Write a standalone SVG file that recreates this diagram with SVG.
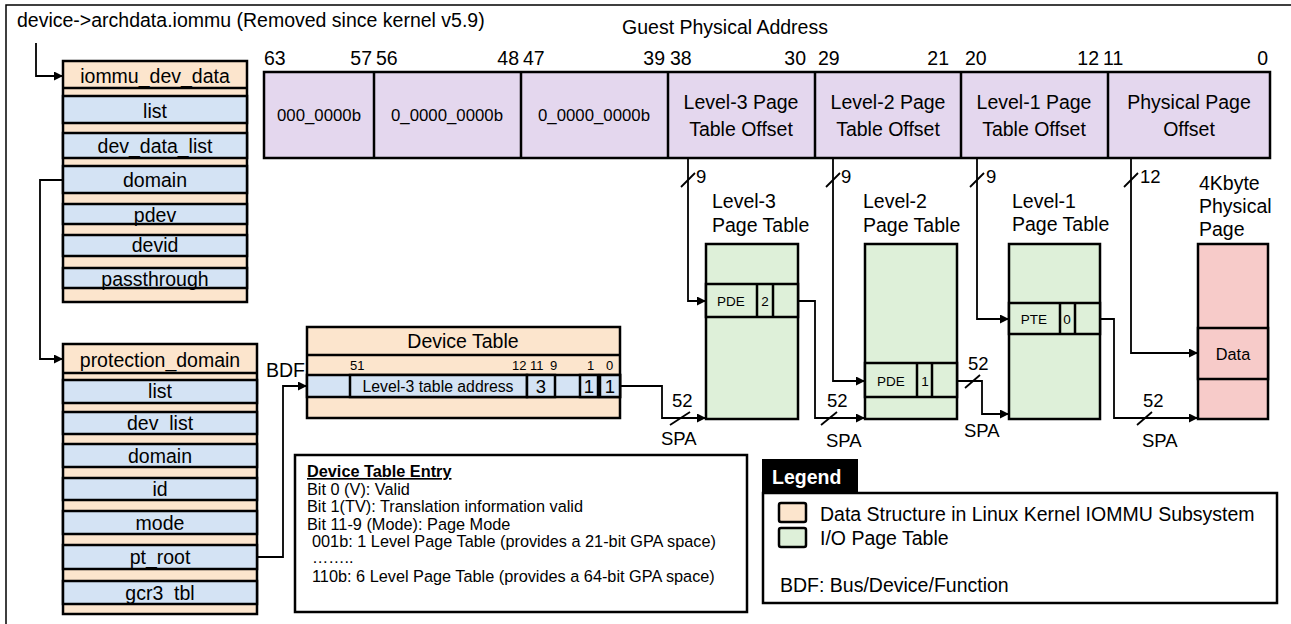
<svg xmlns="http://www.w3.org/2000/svg" width="1291" height="624" viewBox="0 0 1291 624">
  <defs>
    <style>
      text { font-family: "Liberation Sans", Arial, sans-serif; fill: #000; }
      .t19 { font-size: 19.5px; }
      .t18 { font-size: 18.5px; }
      .t16 { font-size: 16.3px; }
      .t17 { font-size: 16.8px; }
      .t15 { font-size: 15.8px; }
      .t13 { font-size: 13.5px; }
      .mid { text-anchor: middle; }
      .end { text-anchor: end; }
      .box { stroke: #000; stroke-width: 2.5; }
      .kern { fill: #fce5cd; }
      .fld { fill: #d4e3f4; }
      .gpa { fill: #e4d7ee; }
      .pt { fill: #def0d9; }
      .page { fill: #f7cbc9; }
      .wire { fill: none; stroke: #000; stroke-width: 1.8; }
      .bus { stroke: #000; stroke-width: 1.8; }
    </style>
    <marker id="arrow" viewBox="0 0 10 10" refX="10" refY="5" markerWidth="9" markerHeight="9" markerUnits="userSpaceOnUse" orient="auto">
      <path d="M0,0 L10,5 L0,10 z" fill="#000"/>
    </marker>
  </defs>

  <rect width="1291" height="624" fill="#fff"/>
  <!-- outer frame -->
  <path d="M6,624 V5 H1291" fill="none" stroke="#000" stroke-width="1.5"/>

  <text class="t19" x="17" y="27">device-&gt;archdata.iommu (Removed since kernel v5.9)</text>
  <text class="t19 mid" x="725" y="34">Guest Physical Address</text>

  <!-- guest physical address bit fields -->
  <g id="gpa">
    <rect class="box gpa" x="264" y="72" width="1006" height="86"/>
    <path d="M374,72 V158 M521,72 V158 M668,72 V158 M815,72 V158 M961,72 V158 M1108,72 V158" stroke="#000" stroke-width="2.5"/>
    <g class="t19">
      <text x="264" y="65">63</text>
      <text class="end" x="372" y="65">57</text>
      <text x="376" y="65">56</text>
      <text class="end" x="519" y="65">48</text>
      <text x="523" y="65">47</text>
      <text class="end" x="665" y="65">39</text>
      <text x="670" y="65">38</text>
      <text class="end" x="806" y="65">30</text>
      <text x="818" y="65">29</text>
      <text class="end" x="949" y="65">21</text>
      <text x="965" y="65">20</text>
      <text class="end" x="1099" y="65">12</text>
      <text x="1103" y="65">11</text>
      <text class="end" x="1268" y="65">0</text>
    </g>
    <g class="t17 mid">
      <text x="319" y="121">000_0000b</text>
      <text x="447" y="121">0_0000_0000b</text>
      <text x="594" y="121">0_0000_0000b</text>
    </g>
    <g class="t19 mid">
      <text x="741" y="109">Level-3 Page</text>
      <text x="741" y="136">Table Offset</text>
      <text x="888" y="109">Level-2 Page</text>
      <text x="888" y="136">Table Offset</text>
      <text x="1034" y="109">Level-1 Page</text>
      <text x="1034" y="136">Table Offset</text>
      <text x="1189" y="109">Physical Page</text>
      <text x="1189" y="136">Offset</text>
    </g>
  </g>

  <!-- struct iommu_dev_data -->
  <g id="iommu_dev_data">
    <rect class="box kern" x="63" y="61" width="184" height="241"/>
    <line x1="63" y1="88" x2="247" y2="88" stroke="#000" stroke-width="2.5"/>
    <rect class="box fld" x="63" y="96" width="184" height="27"/>
    <rect class="box fld" x="63" y="133" width="184" height="25"/>
    <rect class="box fld" x="63" y="166" width="184" height="27"/>
    <rect class="box fld" x="63" y="204" width="184" height="20"/>
    <rect class="box fld" x="63" y="235" width="184" height="21"/>
    <rect class="box fld" x="63" y="268" width="184" height="20"/>
    <g class="t19 mid">
      <text x="155" y="83">iommu_dev_data</text>
      <text x="155" y="118">list</text>
      <text x="155" y="153">dev_data_list</text>
      <text x="155" y="187">domain</text>
      <text x="155" y="222">pdev</text>
      <text x="155" y="252">devid</text>
      <text x="155" y="286">passthrough</text>
    </g>
  </g>

  <!-- struct protection_domain -->
  <g id="protection_domain">
    <rect class="box kern" x="63" y="344" width="194" height="270"/>
    <line x1="63" y1="373" x2="257" y2="373" stroke="#000" stroke-width="2.5"/>
    <rect class="box fld" x="63" y="380" width="194" height="23"/>
    <rect class="box fld" x="63" y="412" width="194" height="22"/>
    <rect class="box fld" x="63" y="444" width="194" height="23"/>
    <rect class="box fld" x="63" y="478" width="194" height="22"/>
    <rect class="box fld" x="63" y="511" width="194" height="23"/>
    <rect class="box fld" x="63" y="545" width="194" height="24"/>
    <rect class="box fld" x="63" y="581" width="194" height="23"/>
    <g class="t19 mid">
      <text x="160" y="367">protection_domain</text>
      <text x="160" y="398">list</text>
      <text x="160" y="430">dev_list</text>
      <text x="160" y="463">domain</text>
      <text x="160" y="496">id</text>
      <text x="160" y="530">mode</text>
      <text x="160" y="564">pt_root</text>
      <text x="160" y="600">gcr3_tbl</text>
    </g>
  </g>

  <!-- device table -->
  <g id="device_table">
    <rect class="box kern" x="307" y="327" width="313" height="91"/>
    <line x1="307" y1="355" x2="620" y2="355" stroke="#000" stroke-width="2.5"/>
    <rect class="box fld" x="307" y="375" width="313" height="22"/>
    <rect class="box fld" x="350" y="375" width="177" height="22"/>
    <rect class="box fld" x="527" y="375" width="28" height="22"/>
    <rect class="box fld" x="580" y="375" width="18" height="22"/>
    <rect class="box fld" x="600" y="375" width="20" height="22"/>
    <text class="t19 mid" x="463" y="348">Device Table</text>
    <g style="font-size:13px">
      <text x="350" y="370">51</text>
      <text x="512" y="370">12</text>
      <text x="530" y="370">11</text>
      <text x="550" y="370">9</text>
      <text x="587" y="370">1</text>
      <text x="606" y="370">0</text>
    </g>
    <text class="t15 mid" x="438" y="392">Level-3 table address</text>
    <g class="t18 mid">
      <text x="541" y="393">3</text>
      <text x="589" y="393">1</text>
      <text x="610" y="393">1</text>
    </g>
    <text class="t19" x="266" y="377">BDF</text>
  </g>

  <!-- level-3 page table -->
  <g id="level3_table">
    <text class="t19" x="712" y="208">Level-3</text>
    <text class="t19" x="712" y="232">Page Table</text>
    <rect class="box pt" x="706" y="244" width="92" height="175"/>
    <rect class="box pt" x="706" y="284" width="92" height="33"/>
    <path d="M757,284 V317 M773,284 V317" stroke="#000" stroke-width="2.5"/>
    <text class="t13 mid" x="731" y="306">PDE</text>
    <text class="t13 mid" x="765" y="306">2</text>
  </g>

  <!-- level-2 page table -->
  <g id="level2_table">
    <text class="t19" x="863" y="208">Level-2</text>
    <text class="t19" x="863" y="232">Page Table</text>
    <rect class="box pt" x="865" y="244" width="92" height="175"/>
    <rect class="box pt" x="865" y="363" width="92" height="34"/>
    <path d="M917,363 V397 M932,363 V397" stroke="#000" stroke-width="2.5"/>
    <text class="t13 mid" x="891" y="386">PDE</text>
    <text class="t13 mid" x="925" y="386">1</text>
  </g>

  <!-- level-1 page table -->
  <g id="level1_table">
    <text class="t19" x="1012" y="208">Level-1</text>
    <text class="t19" x="1012" y="231">Page Table</text>
    <rect class="box pt" x="1009" y="244" width="91" height="175"/>
    <rect class="box pt" x="1009" y="303" width="91" height="31"/>
    <path d="M1060,303 V334 M1075,303 V334" stroke="#000" stroke-width="2.5"/>
    <text class="t13 mid" x="1034" y="324">PTE</text>
    <text class="t13 mid" x="1067" y="324">0</text>
  </g>

  <!-- 4K physical page -->
  <g id="physical_page">
    <text class="t19" x="1199" y="190">4Kbyte</text>
    <text class="t19" x="1199" y="213">Physical</text>
    <text class="t19" x="1199" y="236">Page</text>
    <rect class="box page" x="1198" y="244" width="70" height="175"/>
    <rect class="box page" x="1198" y="328" width="70" height="51"/>
    <text class="t16 mid" x="1233" y="360">Data</text>
  </g>

  <!-- connectors -->
  <g id="connectors">
    <path class="wire" d="M36,43 V76 H63" marker-end="url(#arrow)"/>
    <path class="wire" d="M63,180 H40 V359 H63" marker-end="url(#arrow)"/>
    <path class="wire" d="M257,557 H283 V386 H307" marker-end="url(#arrow)"/>
    <path class="wire" d="M620,386 H662 V418 H706" marker-end="url(#arrow)"/>
    <path class="wire" d="M688,158 V301 H706" marker-end="url(#arrow)"/>
    <path class="wire" d="M798,301 H815 V418 H865" marker-end="url(#arrow)"/>
    <path class="wire" d="M833,158 V381 H865" marker-end="url(#arrow)"/>
    <path class="wire" d="M957,381 H982 V414 H1009" marker-end="url(#arrow)"/>
    <path class="wire" d="M977,158 V319 H1009" marker-end="url(#arrow)"/>
    <path class="wire" d="M1100,319 H1114 V418 H1198" marker-end="url(#arrow)"/>
    <path class="wire" d="M1131,158 V353 H1198" marker-end="url(#arrow)"/>

    <!-- bus width marks -->
    <line class="bus" x1="681" y1="187" x2="695" y2="173"/>
    <line class="bus" x1="826" y1="187" x2="840" y2="173"/>
    <line class="bus" x1="970" y1="187" x2="984" y2="173"/>
    <line class="bus" x1="1124" y1="187" x2="1138" y2="173"/>
    <line class="bus" x1="670" y1="425" x2="690" y2="412"/>
    <line class="bus" x1="821" y1="425" x2="837" y2="412"/>
    <line class="bus" x1="965" y1="388" x2="980" y2="375"/>
    <line class="bus" x1="1137" y1="425" x2="1152" y2="412"/>
    <g class="t18">
      <text x="696" y="183">9</text>
      <text x="841" y="183">9</text>
      <text x="986" y="183">9</text>
      <text x="1140" y="183">12</text>
      <text x="672" y="407">52</text>
      <text x="661" y="445">SPA</text>
      <text x="827" y="407">52</text>
      <text x="826" y="447">SPA</text>
      <text x="968" y="370">52</text>
      <text x="964" y="437">SPA</text>
      <text x="1143" y="407">52</text>
      <text x="1142" y="447">SPA</text>
    </g>
  </g>

  <!-- device table entry notes -->
  <g id="dte_notes">
    <rect x="295" y="455" width="452" height="157" fill="#fff" stroke="#000" stroke-width="2.5"/>
    <g class="t16">
      <text x="307" y="477" font-weight="bold" text-decoration="underline">Device Table Entry</text>
      <text x="307" y="494.5">Bit 0 (V): Valid</text>
      <text x="307" y="512">Bit 1(TV): Translation information valid</text>
      <text x="307" y="529.5">Bit 11-9 (Mode): Page Mode</text>
      <text x="312" y="547">001b: 1 Level Page Table (provides a 21-bit GPA space)</text>
      <text x="312" y="563">……..</text>
      <text x="312" y="582">110b: 6 Level Page Table (provides a 64-bit GPA space)</text>
    </g>
  </g>

  <!-- legend -->
  <g id="legend">
    <rect x="763" y="493" width="514" height="110" fill="#fff" stroke="#000" stroke-width="2.5"/>
    <rect x="762" y="459" width="96" height="34" fill="#000"/>
    <text class="t19" x="772" y="484" font-weight="bold" style="fill:#fff">Legend</text>
    <rect class="box kern" x="779" y="503" width="27" height="19" rx="2"/>
    <rect class="box pt" x="779" y="528" width="27" height="19" rx="2"/>
    <text class="t19" x="820" y="521">Data Structure in Linux Kernel IOMMU Subsystem</text>
    <text class="t19" x="820" y="545">I/O Page Table</text>
    <text class="t19" x="780" y="592">BDF: Bus/Device/Function</text>
  </g>
</svg>
